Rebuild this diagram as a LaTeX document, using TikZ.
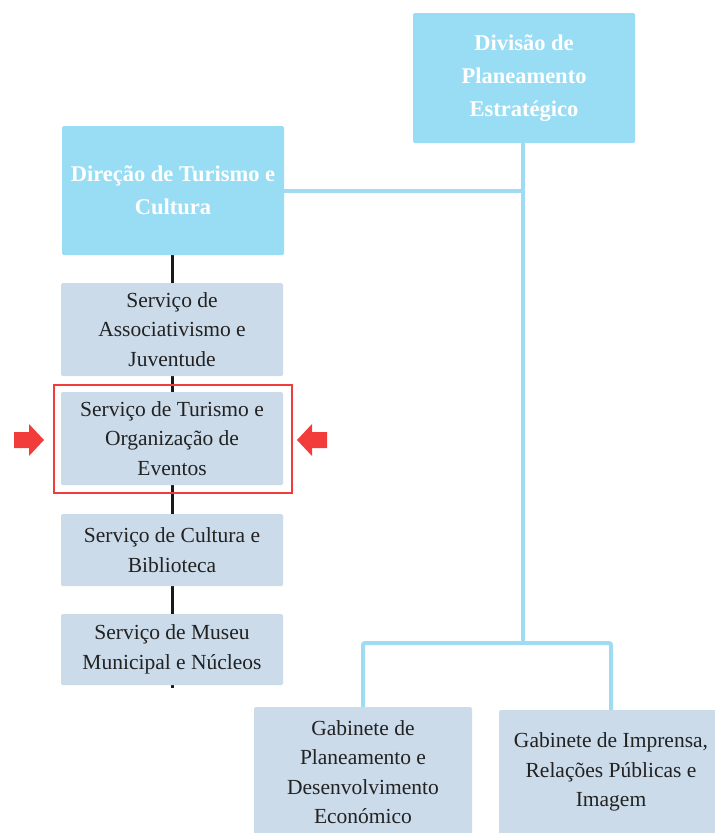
\documentclass[tikz,border=0pt]{standalone}
\usepackage{fontspec}
\setmainfont{Liberation Serif}
\usetikzlibrary{backgrounds}
\definecolor{topblue}{HTML}{99DDF5}
\definecolor{lineblue}{HTML}{9FDCF4}
\definecolor{subblue}{HTML}{CBDBEA}
\definecolor{hired}{HTML}{F23C3C}
\definecolor{subtext}{HTML}{222222}
\tikzset{
  topbox/.style={fill=topblue, draw=none, rounded corners=1.5pt, align=center, inner sep=0pt,
    font=\fontsize{22.5}{33}\selectfont\bfseries, text=white},
  subbox/.style={fill=subblue, draw=none, rounded corners=1.5pt, align=center, inner sep=0pt,
    font=\fontsize{21.5}{29.5}\selectfont, text=subtext},
  blueline/.style={draw=lineblue, line width=4pt, rounded corners=2pt},
  blackline/.style={draw=black!90, line width=3pt},
  redframe/.style={draw=hired, line width=2pt},
  redarrow/.style={fill=hired, draw=none}
}
\begin{document}
\begin{tikzpicture}[x=1pt,y=-1pt]
\useasboundingbox (0,0) rectangle (715,833);
\clip (0,0) rectangle (715,833);
% top boxes
\node[topbox, minimum width=222pt, minimum height=130pt] (div) at (524,78) {Divisão de\\Planeamento\\Estratégico};
\node[topbox, minimum width=222pt, minimum height=129pt] (dir) at (173,190.5) {Direção de Turismo e\\Cultura};
% service boxes
\node[subbox, minimum width=222pt, minimum height=93pt] (s1) at (172,329.5) {Serviço de\\Associativismo e\\Juventude};
\node[subbox, minimum width=222pt, minimum height=93pt] (s2) at (172,438.5) {Serviço de Turismo e\\Organização de\\Eventos};
\node[subbox, minimum width=222pt, minimum height=72pt] (s3) at (172,550) {Serviço de Cultura e\\Biblioteca};
\node[subbox, minimum width=222pt, minimum height=71pt] (s4) at (172,649.5) {Serviço de Museu\\Municipal e Núcleos};
% cabinet boxes
\node[subbox, minimum width=218pt, minimum height=130pt] (g1) at (363,772) {Gabinete de\\Planeamento e\\Desenvolvimento\\Económico};
\node[subbox, minimum width=224pt, minimum height=124pt] (g2) at (611,772) {Gabinete de Imprensa,\\Relações Públicas e\\Imagem};
% highlight
\node[redframe, minimum width=238pt, minimum height=108pt, inner sep=0pt] (hl) at (173,439) {};
\fill[redarrow] (14,432) -- (29,432) -- (29,424) -- (44,440) -- (29,456) -- (29,448) -- (14,448) -- cycle;
\fill[redarrow] (327,432) -- (312,432) -- (312,424) -- (297,440) -- (312,456) -- (312,448) -- (327,448) -- cycle;
% connectors
\coordinate (tailend) at (172,688);
\coordinate (jn) at (523,191);
\coordinate (bar) at (523,643);
\begin{scope}[on background layer]
\draw[blackline] (dir.south -| s1.north) -- (s1.north);
\draw[blackline] (s1.south) -- (s2.north);
\draw[blackline] (s2.south) -- (s3.north);
\draw[blackline] (s3.south) -- (s4.north);
\draw[blackline] (s4.south) -- (tailend);
\draw[blueline] (div.south -| jn) -- (bar);
\draw[blueline] (dir.east |- jn) -- (jn);
\draw[blueline] (g1.north) -- (g1.north |- bar) -- (g2.north |- bar) -- (g2.north);
\end{scope}
\end{tikzpicture}
\end{document}
